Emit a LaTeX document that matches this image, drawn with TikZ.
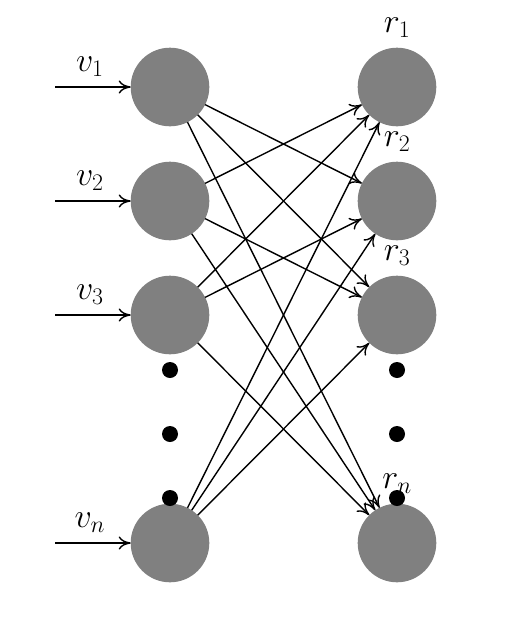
\documentclass[tikz,border=0pt]{standalone}
\usepackage{fix-cm}
\usetikzlibrary{positioning, arrows.meta}

\begin{document}
\begin{tikzpicture}[x=1pt, y=-1pt, font=\fontsize{34}{40}\selectfont,
  >={To[length=12pt, width=13pt]}, line width=1.4pt,
  unit/.style={circle, fill=gray, minimum size=78.6pt, inner sep=0pt, outer sep=0pt},
  dot/.style={circle, fill=black, minimum size=16pt, inner sep=0pt},
  rlbl/.style={label distance=6pt, font=\fontsize{34}{40}\selectfont},
  vlbl/.style={above=6pt, midway, xshift=-3pt, font=\fontsize{34}{40}\selectfont}]
  \useasboundingbox (0,0) rectangle (504,632);
  % inputs
  \node[unit] (v1) at (170,87) {};
  \node[unit, below=35.4pt of v1] (v2) {};
  \node[unit, below=35.4pt of v2] (v3) {};
  \node[unit] (vn) at (170,543) {};
  % outputs
  \node[unit, right=148.4pt of v1, label={[rlbl]above:$r_1$}] (r1) {};
  \node[unit, right=148.4pt of v2, label={[rlbl]above:$r_2$}] (r2) {};
  \node[unit, right=148.4pt of v3, label={[rlbl]above:$r_3$}] (r3) {};
  \node[unit, right=148.4pt of vn, label={[rlbl]above:$r_n$}] (rn) {};
  % ellipsis dots
  \foreach \y [count=\k] in {370,434,498} {
    \node[dot] (dl\k) at (170,\y) {};
    \node[dot] (dr\k) at (397,\y) {};
  }
  % input arrows
  \foreach \v/\t in {v1/$v_1$, v2/$v_2$, v3/$v_3$, vn/$v_n$} {
    \coordinate[left=75.7pt of \v.west] (in-\v);
    \draw[->] (in-\v) -- node[vlbl]{\t} (\v);
  }
  % connections
  \foreach \s/\t in {v1/r2, v1/r3, v1/rn, v2/r1, v2/r3, v2/rn,
                     v3/r1, v3/r2, v3/rn, vn/r1, vn/r2, vn/r3}
    \draw[->] (\s) -- (\t);
\end{tikzpicture}
\end{document}
